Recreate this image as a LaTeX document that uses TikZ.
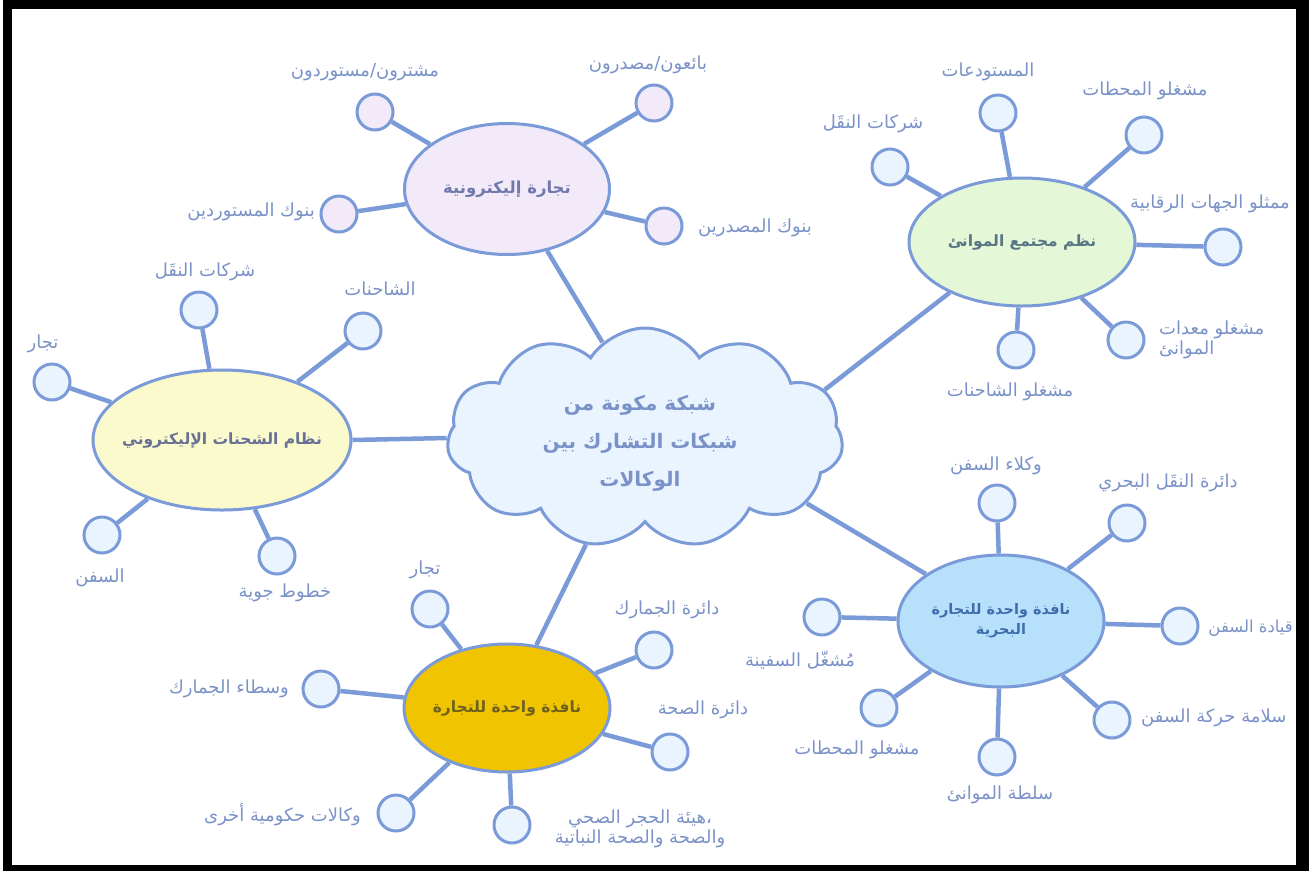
\documentclass[tikz,border=0pt]{standalone}
\usepackage{fontspec}
\usetikzlibrary{shapes.geometric,shapes.symbols}
\TeXXeTstate=1
\newfontfamily\ar[Script=Arabic]{DejaVu Sans}
\definecolor{edgec}{RGB}{122,154,216}
\definecolor{circfill}{RGB}{234,244,255}
\definecolor{lavfill}{RGB}{243,234,249}
\definecolor{greenfill}{RGB}{228,247,214}
\definecolor{yellowfill}{RGB}{250,250,204}
\definecolor{goldfill}{RGB}{240,196,0}
\definecolor{mbluefill}{RGB}{183,224,251}
\definecolor{labc}{RGB}{122,146,200}
\definecolor{ecomtxt}{RGB}{112,120,172}
\definecolor{porttxt}{RGB}{88,118,132}
\definecolor{shiptxt}{RGB}{104,112,150}
\definecolor{tradetxt}{RGB}{110,96,30}
\definecolor{martxt}{RGB}{62,108,172}
\newcommand{\hubline}[1]{\makebox[0pt][c]{\beginR #1\endR}}
\tikzset{
  conn/.style={draw=edgec,line width=4.5pt},
  leaf/.style={circle,draw=edgec,line width=3pt,fill=circfill,minimum size=36pt,inner sep=0pt},
  lavleaf/.style={leaf,fill=lavfill},
  hub/.style={ellipse,draw=edgec,line width=3pt,inner sep=0pt,align=center,
    font=\ar\bfseries\fontsize{15.5}{18}\selectfont},
  lab/.style={text=labc,font=\ar\fontsize{18}{20}\selectfont,align=center,inner sep=1pt},
}
\begin{document}
\begin{tikzpicture}[x=1pt,y=-1pt]
\useasboundingbox (0,0) rectangle (1309,871);
\fill[white] (0,0) rectangle (1309,871);
\fill[black] (3,0) rectangle (1309,871);
\fill[white] (12,9) rectangle (1296,865);

% centre cloud
\node[cloud,cloud puffs=11,cloud puff arc=115,aspect=1.8,draw=edgec,line width=3pt,
  fill=circfill,minimum width=396pt,minimum height=220pt,inner sep=0pt]
  (cloud) at (645,438) {};
\node[text=labc,font=\ar\bfseries\fontsize{20}{38}\selectfont,align=center]
  (cloudtxt) at (640,443)
  {\beginR شبكة مكونة من\endR\\\beginR شبكات التشارك بين\endR\\\beginR الوكالات\endR};

% hubs
\node[hub,fill=lavfill,minimum width=205pt,minimum height=131pt,text=ecomtxt,
  font=\ar\bfseries\fontsize{16.5}{18}\selectfont] (ecom) at (507,189)
  {\hubline{تجارة إليكترونية}};
\node[hub,fill=greenfill,minimum width=226pt,minimum height=128pt,text=porttxt] (port) at (1022,242)
  {\hubline{نظم مجتمع الموانئ}};
\node[hub,fill=yellowfill,minimum width=258pt,minimum height=140pt,text=shiptxt] (ship) at (222,440)
  {\hubline{نظام الشحنات الإليكتروني}};
\node[hub,fill=goldfill,minimum width=206pt,minimum height=128pt,text=tradetxt] (trade) at (507,708)
  {\hubline{نافذة واحدة للتجارة}};
\node[hub,fill=mbluefill,minimum width=206pt,minimum height=132pt,text=martxt,
  font=\ar\bfseries\fontsize{14.5}{20}\selectfont] (mar) at (1001,621)
  {\raisebox{-3pt}[0pt][0pt]{\hubline{نافذة واحدة للتجارة}}\\\raisebox{-3pt}[0pt][0pt]{\hubline{البحرية}}};

% hub to cloud connectors
\draw[conn] (ecom.303) -- (cloud.114);
\draw[conn] (port.215) -- (cloud.15);
\draw[conn] (mar.148) -- (cloud.338);
\draw[conn] (ship.east) -- (cloud.west);
\draw[conn] (trade.65) -- (cloud.241);

% e-commerce leaves
\node[lavleaf] (e1) at (375,112) {};
\node[lavleaf] (e2) at (654,103) {};
\node[lavleaf] (e3) at (339,214) {};
\node[lavleaf] (e4) at (664,226) {};
\foreach \n in {e1,e2,e3,e4} \draw[conn] (ecom) -- (\n);
\node[lab] (le1) at (365,72) {\beginR مشترون/مستوردون\endR};
\node[lab] (le2) at (648,65) {\beginR بائعون/مصدرون\endR};
\node[lab,anchor=east] (le3) at (316,212) {\beginR بنوك المستوردين\endR};
\node[lab,anchor=west] (le4) at (697,228) {\beginR بنوك المصدرين\endR};

% port leaves
\node[leaf] (p1) at (890,167) {};
\node[leaf] (p2) at (998,113) {};
\node[leaf] (p3) at (1144,135) {};
\node[leaf] (p4) at (1223,247) {};
\node[leaf] (p5) at (1126,340) {};
\node[leaf] (p6) at (1016,350) {};
\foreach \n in {p1,p2,p3,p4,p5,p6} \draw[conn] (port) -- (\n);
\node[lab] (lp1) at (873,124) {\beginR شركات النقَل\endR};
\node[lab] (lp2) at (988,72) {\beginR المستودعات\endR};
\node[lab] (lp3) at (1145,91) {\beginR مشغلو المحطات\endR};
\node[lab] (lp4) at (1210,204) {\beginR ممثلو الجهات الرقابية\endR};
\node[lab,align=left,anchor=west] (lp5) at (1158,340) {\beginR مشغلو معدات\endR\\\beginR الموانئ\endR};
\node[lab] (lp6) at (1010,392) {\beginR مشغلو الشاحنات\endR};

% electronic shipment leaves
\node[leaf] (s1) at (199,310) {};
\node[leaf] (s2) at (363,331) {};
\node[leaf] (s3) at (52,382) {};
\node[leaf] (s4) at (102,535) {};
\node[leaf] (s5) at (277,556) {};
\foreach \n in {s1,s2,s3,s4,s5} \draw[conn] (ship) -- (\n);
\node[lab] (ls1) at (205,272) {\beginR شركات النقَل\endR};
\node[lab] (ls2) at (380,289) {\beginR الشاحنات\endR};
\node[lab] (ls3) at (43,344) {\beginR تجار\endR};
\node[lab] (ls4) at (100,578) {\beginR السفن\endR};
\node[lab] (ls5) at (285,593) {\beginR خطوط جوية\endR};

% trade single window leaves
\node[leaf] (t1) at (430,609) {};
\node[leaf] (t2) at (654,650) {};
\node[leaf] (t3) at (670,752) {};
\node[leaf] (t4) at (321,689) {};
\node[leaf] (t5) at (396,813) {};
\node[leaf] (t6) at (512,825) {};
\foreach \n in {t1,t2,t3,t4,t5,t6} \draw[conn] (trade) -- (\n);
\node[lab] (lt1) at (425,570) {\beginR تجار\endR};
\node[lab] (lt2) at (667,610) {\beginR دائرة الجمارك\endR};
\node[lab] (lt3) at (703,710) {\beginR دائرة الصحة\endR};
\node[lab,anchor=east] (lt4) at (290,689) {\beginR وسطاء الجمارك\endR};
\node[lab,anchor=east] (lt5) at (362,815) {\beginR وكالات حكومية أخرى\endR};
\node[lab,align=center] (lt6) at (640,829) {\beginR ،هيئة الحجر الصحي\endR\\\beginR والصحة والصحة النباتية\endR};

% maritime single window leaves
\node[leaf] (m1) at (997,503) {};
\node[leaf] (m2) at (1127,523) {};
\node[leaf] (m3) at (1180,626) {};
\node[leaf] (m4) at (1112,720) {};
\node[leaf] (m5) at (997,757) {};
\node[leaf] (m6) at (879,708) {};
\node[leaf] (m7) at (822,617) {};
\foreach \n in {m1,m2,m3,m4,m5,m6,m7} \draw[conn] (mar) -- (\n);
\node[lab] (lm1) at (996,466) {\beginR وكلاء السفن\endR};
\node[lab] (lm2) at (1168,483) {\beginR دائرة النقَل البحري\endR};
\node[lab,anchor=east,font=\ar\fontsize{16.5}{20}\selectfont] (lm3) at (1294,628) {\beginR قيادة السفن\endR};
\node[lab,anchor=west] (lm4) at (1140,718) {\beginR سلامة حركة السفن\endR};
\node[lab] (lm5) at (1000,795) {\beginR سلطة الموانئ\endR};
\node[lab] (lm6) at (857,750) {\beginR مشغلو المحطات\endR};
\node[lab] (lm7) at (800,660) {\beginR مُشغّل السفينة\endR};
\end{tikzpicture}
\end{document}
